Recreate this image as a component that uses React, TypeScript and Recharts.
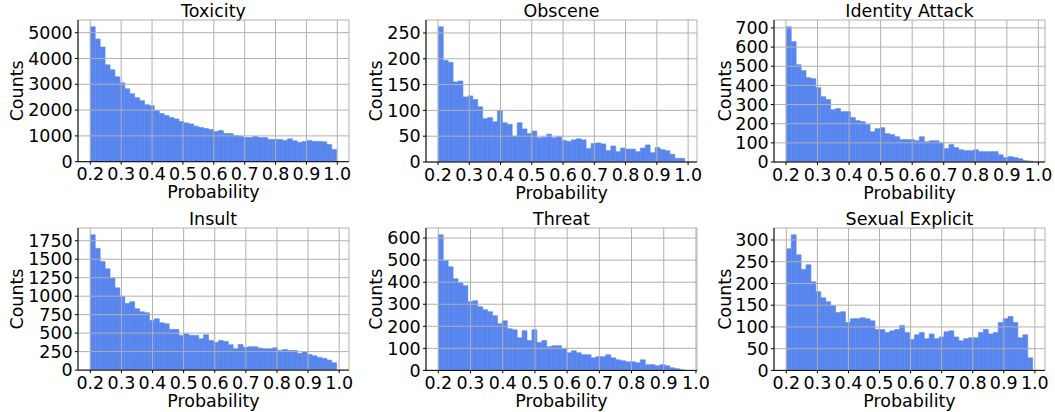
import { BarChart, Bar, XAxis, YAxis, CartesianGrid } from "recharts"

const titles = ["Toxicity", "Obscene", "Identity Attack", "Insult", "Threat", "Sexual Explicit"]

// min / max probability of each histogram (50 bins between them)
const binRanges = [
  [0.2, 0.998],
  [0.201, 0.989],
  [0.201, 0.982],
  [0.2, 0.992],
  [0.2, 0.965],
  [0.2, 0.993],
]

const toxicity = [5230, 4755, 4447, 3753, 3560, 3290, 3060, 2828, 2635, 2480, 2365, 2210, 2172, 1980, 1864, 1787, 1710, 1658, 1555, 1504, 1465, 1375, 1324, 1285, 1247, 1170, 1208, 1093, 1093, 1015, 990, 938, 938, 977, 938, 938, 861, 861, 861, 823, 887, 810, 746, 784, 823, 784, 784, 771, 668, 476]
const obscene = [262, 197, 193, 155, 157, 126, 128, 121, 107, 84, 86, 78, 100, 76, 73, 50, 76, 64, 55, 60, 47, 48, 54, 47, 49, 42, 40, 43, 45, 43, 26, 36, 37, 35, 22, 31, 20, 27, 25, 25, 20, 27, 33, 18, 28, 24, 22, 15, 7, 7]
const identityAttack = [706, 628, 508, 477, 440, 435, 388, 341, 326, 273, 279, 263, 263, 232, 216, 211, 195, 158, 174, 179, 148, 143, 132, 117, 117, 117, 111, 132, 106, 111, 111, 101, 70, 91, 75, 64, 59, 59, 64, 54, 54, 54, 54, 38, 23, 28, 23, 17, 7, 5]
const insult = [1831, 1646, 1470, 1371, 1245, 1114, 997, 902, 925, 830, 789, 776, 672, 695, 640, 627, 550, 550, 469, 492, 469, 469, 424, 478, 401, 374, 401, 388, 343, 289, 347, 307, 316, 316, 298, 289, 289, 302, 266, 280, 266, 266, 226, 244, 212, 194, 171, 158, 135, 99]
const threat = [615, 499, 470, 416, 397, 384, 311, 316, 289, 275, 266, 248, 212, 225, 189, 184, 148, 180, 135, 184, 127, 135, 107, 112, 112, 98, 80, 89, 80, 71, 71, 57, 62, 62, 71, 57, 48, 44, 39, 39, 35, 48, 26, 26, 21, 26, 21, 12, 8, 3]
const sexualExplicit = [280, 312, 266, 232, 243, 204, 181, 167, 158, 149, 133, 135, 110, 119, 119, 121, 119, 114, 94, 94, 87, 91, 94, 103, 87, 71, 82, 87, 73, 84, 73, 77, 89, 91, 77, 68, 73, 75, 75, 87, 94, 84, 87, 110, 119, 124, 110, 75, 82, 29]

const series = [toxicity, obscene, identityAttack, insult, threat, sexualExplicit]

const xTicks = [0.2, 0.3, 0.4, 0.5, 0.6, 0.7, 0.8, 0.9, 1.0]
const yTicks = [
  [0, 1000, 2000, 3000, 4000, 5000],
  [0, 50, 100, 150, 200, 250],
  [0, 100, 200, 300, 400, 500, 600, 700],
  [0, 250, 500, 750, 1000, 1250, 1500, 1750],
  [0, 100, 200, 300, 400, 500, 600],
  [0, 50, 100, 150, 200, 250, 300],
]

// plot boxes on the page, and gap from the y axis to the centre of "Counts"
const boxes = [
  { left: 78, top: 20.3, right: 349, bottom: 162, labelGap: 61.5 },
  { left: 426, top: 20.3, right: 697, bottom: 162.3, labelGap: 50 },
  { left: 774, top: 20.3, right: 1045, bottom: 162.3, labelGap: 49 },
  { left: 77.5, top: 228.3, right: 348.5, bottom: 370.4, labelGap: 61 },
  { left: 426, top: 228.3, right: 697, bottom: 370.7, labelGap: 50 },
  { left: 774, top: 228.3, right: 1045, bottom: 370.7, labelGap: 49 },
]

const FONT = 17.5
const AXIS_W = 70
const TOP_PAD = 10
const RIGHT_PAD = 22
const X_H = 45
const BAR_COLOR = "#5886ee"
const GRID_COLOR = "#b0b0b0"

function Panel({ i }: { i: number }) {
  const [start, end] = binRanges[i]
  const counts = series[i]
  const binWidth = (end - start) / counts.length
  const data = counts.map((count, k) => ({ x: start + (k + 0.5) * binWidth, count }))
  const pad = 0.05 * (end - start)
  const lo = start - pad
  const hi = end + pad
  const box = boxes[i]
  const plotW = box.right - box.left
  const plotH = box.bottom - box.top
  const barSize = ((plotW * binWidth) / (hi - lo)) * 0.998
  const yMax = Math.max(...counts) * 1.05
  const tickStyle = { fontSize: FONT, fill: "#000" }

  return (
    <>
      <div
        style={{
          position: "absolute",
          left: box.left,
          width: plotW,
          top: box.top - 17.5,
          textAlign: "center",
          fontSize: FONT,
          lineHeight: `${FONT}px`,
          color: "#000",
          whiteSpace: "nowrap",
        }}
      >
        {titles[i]}
      </div>
      <div style={{ position: "absolute", left: box.left - AXIS_W, top: box.top - TOP_PAD }}>
        <BarChart
          width={plotW + AXIS_W + RIGHT_PAD}
          height={plotH + TOP_PAD + X_H}
          data={data}
          margin={{ top: TOP_PAD, right: RIGHT_PAD, bottom: 0, left: 0 }}
          barCategoryGap={0}
          barGap={0}
        >
          <Bar
            dataKey="count"
            fill={BAR_COLOR}
            stroke={BAR_COLOR}
            strokeWidth={0.6}
            barSize={barSize}
            isAnimationActive={false}
          />
          <CartesianGrid stroke={GRID_COLOR} strokeWidth={1} zIndex={350} />
          <XAxis
            type="number"
            dataKey="x"
            domain={[lo, hi]}
            allowDataOverflow
            ticks={xTicks}
            interval={0}
            tickFormatter={(v: number) => v.toFixed(1)}
            height={X_H}
            tick={tickStyle}
            tickSize={3}
            tickMargin={3.1}
            stroke="#000"
            label={{ value: "Probability", position: "insideBottom", offset: X_H - 36.5, fontSize: FONT, fill: "#000" }}
          />
          <YAxis
            type="number"
            domain={[0, yMax]}
            allowDataOverflow
            ticks={yTicks[i]}
            interval={0}
            width={AXIS_W}
            tick={tickStyle}
            tickSize={3}
            tickMargin={2.3}
            stroke="#000"
            label={{
              value: "Counts",
              angle: -90,
              position: "insideLeft",
              offset: AXIS_W - box.labelGap,
              fontSize: FONT,
              fill: "#000",
              style: { textAnchor: "middle" },
            }}
          />
        </BarChart>
      </div>
    </>
  )
}

export default function App() {
  return (
    <div
      style={{
        position: "absolute",
        left: 0,
        top: 0,
        width: 1055,
        height: 412,
        background: "#fff",
        fontFamily: "'DejaVu Sans', sans-serif",
      }}
    >
      {titles.map((_, i) => (
        <Panel key={i} i={i} />
      ))}
    </div>
  )
}
